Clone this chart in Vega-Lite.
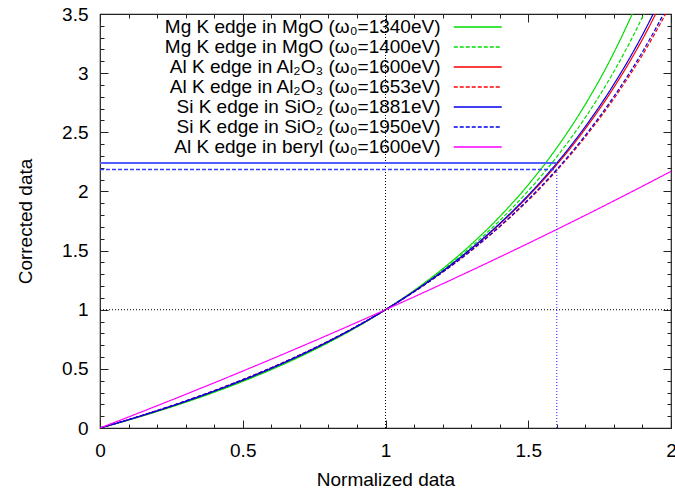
{
  "$schema": "https://vega.github.io/schema/vega-lite/v6.json",
  "width": 571,
  "height": 414,
  "autosize": {"type": "none"},
  "padding": {"left": 100, "top": 14, "right": 4, "bottom": 60},
  "background": "white",
  "config": {
    "font": "Liberation Sans",
    "view": {"stroke": "#222222", "strokeWidth": 1.2},
    "axis": {"domain": false, "grid": false, "tickColor": "#222222", "tickWidth": 1, "labelColor": "#000000", "titleColor": "#000000", "labelFont": "Liberation Sans", "titleFont": "Liberation Sans", "labelFontSize": 19, "titleFontSize": 19, "titleFontWeight": "normal", "labelOverlap": false, "labelFlush": false}
  },
  "datasets": {
    "curves": [
      {"x": 0, "g1": 0, "g2": 0, "r1": 0, "r2": 0, "b1": 0, "b2": 0, "m": 0},
      {"x": 0.1, "g1": 0.06725, "g2": 0.06881, "r1": 0.07033, "r2": 0.07155, "b1": 0.07002, "b2": 0.0713, "m": 0.09342},
      {"x": 0.2, "g1": 0.13958, "g2": 0.14257, "r1": 0.14546, "r2": 0.14778, "b1": 0.14486, "b2": 0.1473, "m": 0.18821},
      {"x": 0.3, "g1": 0.21759, "g2": 0.22182, "r1": 0.22589, "r2": 0.22914, "b1": 0.22505, "b2": 0.22848, "m": 0.28441},
      {"x": 0.4, "g1": 0.30197, "g2": 0.30719, "r1": 0.31221, "r2": 0.31619, "b1": 0.31117, "b2": 0.31538, "m": 0.38205},
      {"x": 0.5, "g1": 0.39354, "g2": 0.39944, "r1": 0.40508, "r2": 0.40954, "b1": 0.40391, "b2": 0.40864, "m": 0.48117},
      {"x": 0.6, "g1": 0.49325, "g2": 0.49941, "r1": 0.50528, "r2": 0.5099, "b1": 0.50407, "b2": 0.50896, "m": 0.58178},
      {"x": 0.7, "g1": 0.60225, "g2": 0.60813, "r1": 0.61372, "r2": 0.61809, "b1": 0.61257, "b2": 0.6172, "m": 0.68394},
      {"x": 0.8, "g1": 0.72188, "g2": 0.7268, "r1": 0.73144, "r2": 0.73506, "b1": 0.73049, "b2": 0.73433, "m": 0.78767},
      {"x": 0.9, "g1": 0.8538, "g2": 0.85685, "r1": 0.85971, "r2": 0.86192, "b1": 0.85912, "b2": 0.86148, "m": 0.89301},
      {"x": 1.0, "g1": 1, "g2": 1, "r1": 1, "r2": 1, "b1": 1, "b2": 1, "m": 1},
      {"x": 1.1, "g1": 1.16293, "g2": 1.15833, "r1": 1.15409, "r2": 1.15084, "b1": 1.15495, "b2": 1.15149, "m": 1.10868},
      {"x": 1.2, "g1": 1.34562, "g2": 1.33438, "r1": 1.32411, "r2": 1.3163, "b1": 1.3262, "b2": 1.31786, "m": 1.21909},
      {"x": 1.3, "g1": 1.55191, "g2": 1.53133, "r1": 1.51268, "r2": 1.4986, "b1": 1.51646, "b2": 1.50142, "m": 1.33127},
      {"x": 1.4, "g1": 1.78669, "g2": 1.7531, "r1": 1.72298, "r2": 1.70047, "b1": 1.72908, "b2": 1.70497, "m": 1.44526},
      {"x": 1.5, "g1": 2.0563, "g2": 2.00474, "r1": 1.95905, "r2": 1.92524, "b1": 1.96824, "b2": 1.93197, "m": 1.5611},
      {"x": 1.6, "g1": 2.36911, "g2": 2.29266, "r1": 2.22589, "r2": 2.17703, "b1": 2.23924, "b2": 2.18671, "m": 1.67883},
      {"x": 1.7, "g1": 2.73641, "g2": 2.62537, "r1": 2.52996, "r2": 2.46101, "b1": 2.54894, "b2": 2.47462, "m": 1.79856},
      {"x": 1.8, "g1": 3.17379, "g2": 3.01421, "r1": 2.87961, "r2": 2.78381, "b1": 2.90621, "b2": 2.80261, "m": 1.92027},
      {"x": 1.9, "g1": 3.70343, "g2": 3.47463, "r1": 3.28595, "r2": 3.15393, "b1": 3.32294, "b2": 3.1797, "m": 2.04401},
      {"x": 2.0, "g1": 4.358, "g2": 4.02847, "r1": 3.76396, "r2": 3.58264, "b1": 3.81532, "b2": 3.6178, "m": 2.16987}
    ],
    "refs": [
      {"kind": "black", "x": 1, "x2": 1, "y": 0, "y2": 3.5},
      {"kind": "black", "x": 0, "x2": 2, "y": 1, "y2": 1},
      {"kind": "bluedot", "x": 1.6, "x2": 1.6, "y": 0, "y2": 2.187},
      {"kind": "bluesolid", "x": 0, "x2": 1.6, "y": 2.241, "y2": 2.241},
      {"kind": "bluedash", "x": 0, "x2": 1.6, "y": 2.185, "y2": 2.185}
    ]
  },
  "layer": [
    {
      "data": {"name": "curves"},
      "transform": [{"fold": ["g1", "g2", "r1", "r2", "b1", "b2", "m"], "as": ["key", "value"]}],
      "mark": {"type": "line", "clip": true, "strokeWidth": 1.2, "interpolate": "monotone"},
      "encoding": {
        "x": {"field": "x", "type": "quantitative", "scale": {"domain": [0, 2], "nice": false, "zero": false},
          "axis": {"orient": "bottom", "title": "Normalized data", "titlePadding": 6,
            "values": [0,0.1,0.2,0.3,0.4,0.5,0.6,0.7,0.8,0.9,1,1.1,1.2,1.3,1.4,1.5,1.6,1.7,1.8,1.9,2],
            "labelExpr": "abs(datum.value*2-round(datum.value*2))<0.001 ? format(datum.value,'~g') : ''",
            "tickSize": {"condition": {"test": "abs(datum.value*2-round(datum.value*2))<0.001", "value": -8}, "value": -4},
            "labelPadding": 21}},
        "y": {"field": "value", "type": "quantitative", "scale": {"domain": [0, 3.5], "nice": false, "zero": false},
          "axis": {"orient": "left", "title": "Corrected data", "titlePadding": 26,
            "values": [0,0.1,0.2,0.3,0.4,0.5,0.6,0.7,0.8,0.9,1,1.1,1.2,1.3,1.4,1.5,1.6,1.7,1.8,1.9,2,2.1,2.2,2.3,2.4,2.5,2.6,2.7,2.8,2.9,3,3.1,3.2,3.3,3.4,3.5],
            "labelExpr": "abs(datum.value*2-round(datum.value*2))<0.001 ? format(datum.value,'~g') : ''",
            "tickSize": {"condition": {"test": "abs(datum.value*2-round(datum.value*2))<0.001", "value": -8}, "value": -4},
            "labelPadding": 20}},
        "color": {"field": "key", "type": "nominal",
          "scale": {"domain": ["g1", "g2", "r1", "r2", "b1", "b2", "m"], "range": ["#00dd00", "#00dd00", "#ff0000", "#ff0000", "#0000ee", "#0000ee", "#ff00ff"]},
          "legend": {"title": null, "orient": "none", "legendX": 368.25, "legendY": 3.5, "symbolType": "M-3.098,0H3.098", "symbolSize": 240, "symbolStrokeWidth": 1.5, "labelAlign": "right", "labelOffset": -46.75, "labelFontSize": 19, "labelFont": "Liberation Sans", "labelColor": "#000000", "labelLimit": 0, "rowPadding": 0, "padding": 0,
            "labelExpr": "{'g1':'Mg K edge in MgO (ω₀=1340eV)','g2':'Mg K edge in MgO (ω₀=1400eV)','r1':'Al K edge in Al₂O₃ (ω₀=1600eV)','r2':'Al K edge in Al₂O₃ (ω₀=1653eV)','b1':'Si K edge in SiO₂ (ω₀=1881eV)','b2':'Si K edge in SiO₂ (ω₀=1950eV)','m':'Al K edge in beryl (ω₀=1600eV)'}[datum.value]"}},
        "strokeDash": {"field": "key", "type": "nominal",
          "scale": {"domain": ["g1", "g2", "r1", "r2", "b1", "b2", "m"], "range": [[1, 0], [4, 2], [1, 0], [4, 2], [1, 0], [4, 2], [1, 0]]},
          "legend": {"title": null, "orient": "none", "legendX": 368.25, "legendY": 3.5, "symbolType": "M-3.098,0H3.098", "symbolSize": 240, "symbolStrokeWidth": 1.5, "labelAlign": "right", "labelOffset": -46.75, "labelFontSize": 19, "labelFont": "Liberation Sans", "labelColor": "#000000", "labelLimit": 0, "rowPadding": 0, "padding": 0,
            "labelExpr": "{'g1':'Mg K edge in MgO (ω₀=1340eV)','g2':'Mg K edge in MgO (ω₀=1400eV)','r1':'Al K edge in Al₂O₃ (ω₀=1600eV)','r2':'Al K edge in Al₂O₃ (ω₀=1653eV)','b1':'Si K edge in SiO₂ (ω₀=1881eV)','b2':'Si K edge in SiO₂ (ω₀=1950eV)','m':'Al K edge in beryl (ω₀=1600eV)'}[datum.value]"}}
      }
    },
    {
      "data": {"name": "refs"},
      "transform": [{"filter": "datum.kind === 'black'"}],
      "mark": {"type": "rule", "color": "#000000", "strokeWidth": 1, "strokeDash": [1, 2]},
      "encoding": {
        "x": {"field": "x", "type": "quantitative", "scale": {"domain": [0, 2], "nice": false, "zero": false},
          "axis": {"orient": "top", "title": null, "labels": false,
            "values": [0,0.1,0.2,0.3,0.4,0.5,0.6,0.7,0.8,0.9,1,1.1,1.2,1.3,1.4,1.5,1.6,1.7,1.8,1.9,2],
            "tickSize": {"condition": {"test": "abs(datum.value*2-round(datum.value*2))<0.001", "value": -8}, "value": -4}}},
        "x2": {"field": "x2"},
        "y": {"field": "y", "type": "quantitative", "scale": {"domain": [0, 3.5], "nice": false, "zero": false},
          "axis": {"orient": "right", "title": null, "labels": false,
            "values": [0,0.1,0.2,0.3,0.4,0.5,0.6,0.7,0.8,0.9,1,1.1,1.2,1.3,1.4,1.5,1.6,1.7,1.8,1.9,2,2.1,2.2,2.3,2.4,2.5,2.6,2.7,2.8,2.9,3,3.1,3.2,3.3,3.4,3.5],
            "tickSize": {"condition": {"test": "abs(datum.value*2-round(datum.value*2))<0.001", "value": -8}, "value": -4}}},
        "y2": {"field": "y2"}
      }
    },
    {
      "data": {"name": "refs"},
      "transform": [{"filter": "datum.kind === 'bluedot'"}],
      "mark": {"type": "rule", "color": "#2020ff", "strokeWidth": 1, "strokeDash": [1, 2]},
      "encoding": {
        "x": {"field": "x", "type": "quantitative", "scale": {"domain": [0, 2], "nice": false, "zero": false}, "axis": null},
        "x2": {"field": "x2"},
        "y": {"field": "y", "type": "quantitative", "scale": {"domain": [0, 3.5], "nice": false, "zero": false}, "axis": null},
        "y2": {"field": "y2"}
      }
    },
    {
      "data": {"name": "refs"},
      "transform": [{"filter": "datum.kind === 'bluesolid'"}],
      "mark": {"type": "rule", "color": "#5060ff", "strokeWidth": 2},
      "encoding": {
        "x": {"field": "x", "type": "quantitative", "scale": {"domain": [0, 2], "nice": false, "zero": false}, "axis": null},
        "x2": {"field": "x2"},
        "y": {"field": "y", "type": "quantitative", "scale": {"domain": [0, 3.5], "nice": false, "zero": false}, "axis": null},
        "y2": {"field": "y2"}
      }
    },
    {
      "data": {"name": "refs"},
      "transform": [{"filter": "datum.kind === 'bluedash'"}],
      "mark": {"type": "rule", "color": "#3040ff", "strokeWidth": 1.5, "strokeDash": [4, 2]},
      "encoding": {
        "x": {"field": "x", "type": "quantitative", "scale": {"domain": [0, 2], "nice": false, "zero": false}, "axis": null},
        "x2": {"field": "x2"},
        "y": {"field": "y", "type": "quantitative", "scale": {"domain": [0, 3.5], "nice": false, "zero": false}, "axis": null},
        "y2": {"field": "y2"}
      }
    }
  ],
  "resolve": {"axis": {"x": "independent", "y": "independent"}}
}
